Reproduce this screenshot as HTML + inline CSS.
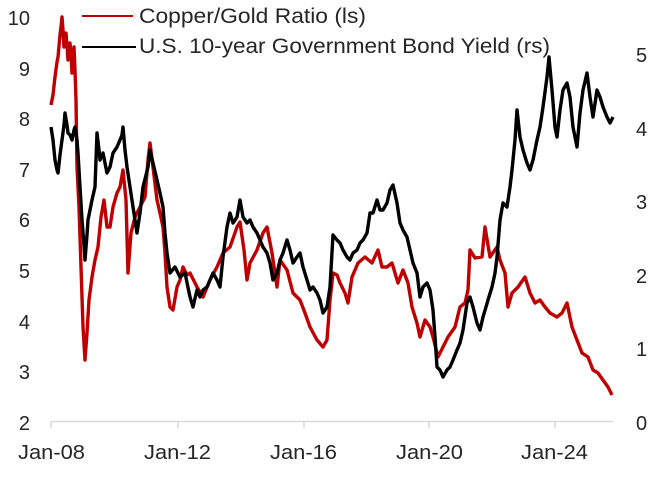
<!DOCTYPE html>
<html><head><meta charset="utf-8"><style>
html,body{margin:0;padding:0;background:#fff;}
svg{display:block;}
text{font-family:"Liberation Sans",sans-serif;fill:#262626;}
</style></head><body>
<svg width="672" height="480" viewBox="0 0 672 480" xmlns="http://www.w3.org/2000/svg">
<rect width="672" height="480" fill="#fff"/>
<line x1="51" y1="421.5" x2="613" y2="421.5" stroke="#d9d9d9" stroke-width="1.5"/>
<g stroke="#d9d9d9" stroke-width="1.5">
<line x1="51" y1="421" x2="51" y2="428"/>
<line x1="178" y1="421" x2="178" y2="428"/>
<line x1="304" y1="421" x2="304" y2="428"/>
<line x1="429" y1="421" x2="429" y2="428"/>
<line x1="555" y1="421" x2="555" y2="428"/>
</g>
<g font-size="20" text-anchor="end">
<text x="30" y="25">10</text>
<text x="30" y="76">9</text>
<text x="30" y="126">8</text>
<text x="30" y="177">7</text>
<text x="30" y="227">6</text>
<text x="30" y="278">5</text>
<text x="30" y="329">4</text>
<text x="30" y="379">3</text>
<text x="30" y="430">2</text>
</g>
<g font-size="20" text-anchor="start">
<text x="636" y="62">5</text>
<text x="636" y="136">4</text>
<text x="636" y="209">3</text>
<text x="636" y="283">2</text>
<text x="636" y="356">1</text>
<text x="636" y="430">0</text>
</g>
<g font-size="20">
<text x="18" y="459" textLength="67" lengthAdjust="spacingAndGlyphs">Jan-08</text>
<text x="144" y="459" textLength="67" lengthAdjust="spacingAndGlyphs">Jan-12</text>
<text x="270" y="459" textLength="67" lengthAdjust="spacingAndGlyphs">Jan-16</text>
<text x="396" y="459" textLength="67" lengthAdjust="spacingAndGlyphs">Jan-20</text>
<text x="521" y="459" textLength="67" lengthAdjust="spacingAndGlyphs">Jan-24</text>
</g>
<polyline fill="none" stroke="#C00000" stroke-width="3.4" stroke-linejoin="round" points="51,105 53,95 55,77 57,62 58,57 60,35 61,27 62,17 63,30 64,47 65,40 66,33 67,45 68,60 69,50 70,43 71,55 72,73 73,60 74,47 75,70 76,100 77,167 79,207 81,267 83,327 85,360 87,333 89,300 92,277 95,260 98,247 101,217 104,200 107,227 110,227 113,207 117,193 120,187 123,170 126,200 128,273 131,233 135,217 140,207 145,197 148,160 150,143 153,167 157,200 160,213 163,227 165,253 167,287 170,307 173,310 177,287 180,280 183,267 187,275 190,273 197,287 203,297 210,280 217,267 223,253 230,247 237,227 240,222 244,250 247,280 250,263 257,250 263,233 267,227 272,253 277,287 280,260 287,270 293,293 300,300 305,313 310,327 317,340 323,347 327,340 330,300 333,273 337,275 340,283 345,293 348,303 352,277 358,263 365,257 372,263 378,250 382,267 387,267 392,263 398,283 403,270 408,283 412,307 417,323 420,337 425,320 430,327 433,337 438,357 443,347 448,337 455,327 460,307 465,303 468,290 470,250 475,258 482,257 485,227 490,257 497,247 500,260 505,273 508,307 512,293 518,287 525,277 530,293 535,303 540,300 545,307 550,313 557,317 562,313 567,303 572,327 577,340 582,353 588,357 593,370 598,373 603,380 608,387 612,395"/>
<polyline fill="none" stroke="#000" stroke-width="3.4" stroke-linejoin="round" points="51,127 53,140 55,160 57,170 58,173 60,155 62,140 64,125 65,113 67,125 68,133 70,135 72,140 74,130 75,127 77,140 78,153 80,187 82,220 84,245 85,260 87,235 88,220 90,210 92,200 95,187 97,133 99,150 100,160 103,153 107,173 110,167 113,153 117,147 120,140 122,135 123,127 125,150 127,167 130,187 133,207 137,233 140,213 143,187 146,175 148,167 150,150 153,163 157,180 160,193 163,207 165,233 167,253 170,273 175,267 180,277 185,273 190,297 193,307 197,290 200,297 203,290 207,287 210,280 213,273 217,280 220,287 223,257 227,227 230,213 233,223 237,217 240,200 243,217 247,223 250,220 253,227 257,233 260,240 263,247 267,253 270,263 273,280 277,273 280,260 283,253 287,240 290,250 293,263 297,257 300,253 303,267 307,280 310,290 313,287 317,293 320,300 323,313 327,307 330,287 333,235 337,240 340,243 343,250 347,257 350,260 353,253 357,250 360,243 363,240 367,233 370,213 373,213 377,200 380,210 383,210 387,203 390,190 393,185 397,203 400,223 403,230 407,237 410,250 413,263 417,273 420,297 423,287 427,283 430,290 433,310 435,337 437,367 440,370 443,377 447,370 450,367 453,360 457,350 460,343 463,330 467,303 470,297 473,307 477,323 480,330 483,317 486,307 488,300 492,287 495,273 497,257 500,220 503,203 507,207 510,187 512,170 515,140 517,110 520,137 523,150 527,163 530,170 533,160 537,140 540,127 543,107 547,77 549,57 552,90 555,127 557,137 560,110 563,90 567,83 570,97 573,127 577,147 580,113 583,90 587,73 590,97 593,117 597,90 600,97 603,107 607,117 610,123 613,117"/>
<line x1="82" y1="16" x2="133" y2="16" stroke="#C00000" stroke-width="2"/>
<text x="139" y="23" font-size="21" textLength="227" lengthAdjust="spacingAndGlyphs">Copper/Gold Ratio (ls)</text>
<line x1="82" y1="47" x2="136" y2="47" stroke="#000" stroke-width="2"/>
<text x="139" y="53" font-size="21" textLength="411" lengthAdjust="spacingAndGlyphs">U.S. 10-year Government Bond Yield (rs)</text>
</svg>
</body></html>
